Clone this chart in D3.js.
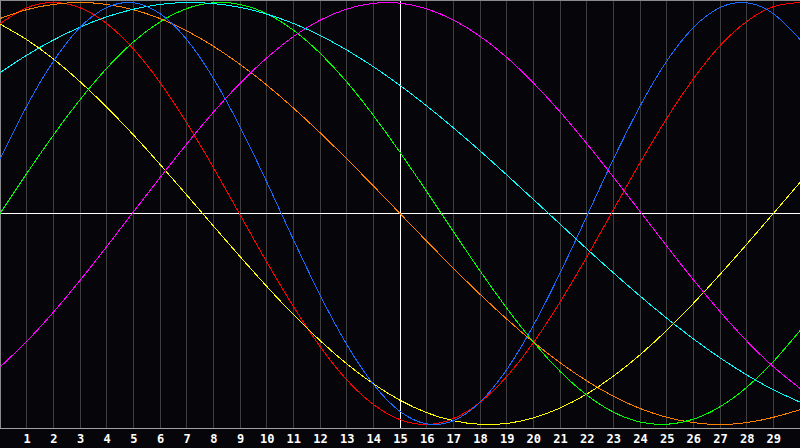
<!DOCTYPE html>
<html>
<head>
<meta charset="utf-8">
<script src="https://cdn.jsdelivr.net/npm/d3@7"></script>
<style>
    html, body { margin: 0; padding: 0; background: #060509; }
    svg { display: block; }
    .tick-label { font-family: "DejaVu Sans Mono", monospace; font-weight: bold; font-size: 12px; fill: #ffffff; }
</style>
</head>
<body>
<svg id="chart"></svg>
<script>
/***** Data *****/
var xValues = [0, 1, 2, 3, 4, 5, 6, 7, 8, 9, 10, 11, 12, 13, 14, 15,
               16, 17, 18, 19, 20, 21, 22, 23, 24, 25, 26, 27, 28, 29, 30];
var tickLabels = [1, 2, 3, 4, 5, 6, 7, 8, 9, 10, 11, 12, 13, 14, 15,
                  16, 17, 18, 19, 20, 21, 22, 23, 24, 25, 26, 27, 28, 29];

var redValues = [0.900, 0.975, 1.000, 0.975, 0.900, 0.780, 0.621, 0.430, 0.218, -0.006,
                 -0.229, -0.440, -0.630, -0.788, -0.905, -0.977, -1.000, -0.972, -0.895, -0.773,
                 -0.613, -0.420, -0.207, 0.017, 0.240, 0.450, 0.638, 0.795, 0.910, 0.980, 1.000];
var orangeValues = [0.924, 0.966, 0.991, 1.000, 0.991, 0.966, 0.924, 0.866, 0.793, 0.707,
                    0.609, 0.500, 0.383, 0.259, 0.131, 0.000, -0.131, -0.259, -0.383, -0.500,
                    -0.609, -0.707, -0.793, -0.866, -0.924, -0.966, -0.991, -1.000, -0.991, -0.966, -0.930];
var yellowValues = [0.898, 0.824, 0.733, 0.625, 0.504, 0.373, 0.233, 0.088, -0.059, -0.204,
                    -0.345, -0.479, -0.602, -0.712, -0.807, -0.885, -0.944, -0.982, -0.999, -0.995,
                    -0.969, -0.922, -0.856, -0.771, -0.670, -0.554, -0.426, -0.289, -0.146, 0.000, 0.147];
var greenValues = [0.000, 0.189, 0.371, 0.539, 0.688, 0.813, 0.908, 0.971, 0.999, 0.991,
                   0.947, 0.869, 0.760, 0.624, 0.465, 0.290, 0.104, -0.085, -0.272, -0.448,
                   -0.609, -0.748, -0.860, -0.941, -0.988, -0.999, -0.975, -0.916, -0.824, -0.702, -0.555];
var cyanValues = [0.667, 0.750, 0.822, 0.883, 0.932, 0.968, 0.991, 1.000, 0.995, 0.977,
                  0.945, 0.901, 0.844, 0.775, 0.696, 0.607, 0.510, 0.406, 0.297, 0.183,
                  0.067, -0.050, -0.167, -0.281, -0.391, -0.496, -0.594, -0.684, -0.765, -0.835, -0.894];
var blueValues = [0.257, 0.508, 0.721, 0.882, 0.976, 0.999, 0.947, 0.825, 0.641, 0.411,
                  0.150, -0.123, -0.386, -0.620, -0.809, -0.938, -0.997, -0.982, -0.894, -0.740,
                  -0.531, -0.283, -0.014, 0.257, 0.508, 0.722, 0.881, 0.976, 0.999, 0.947, 0.825];
var magentaValues = [-0.728, -0.606, -0.468, -0.317, -0.157, 0.007, 0.170, 0.329, 0.480, 0.617,
                     0.737, 0.838, 0.916, 0.969, 0.996, 0.997, 0.970, 0.917, 0.840, 0.740,
                     0.619, 0.482, 0.332, 0.173, 0.010, -0.154, -0.314, -0.465, -0.604, -0.726, -0.829];

var seriesList = [
    { name: "red", color: "#ff0000", values: redValues },
    { name: "orange", color: "#ff8000", values: orangeValues },
    { name: "yellow", color: "#ffff00", values: yellowValues },
    { name: "green", color: "#00ff00", values: greenValues },
    { name: "cyan", color: "#00ffff", values: cyanValues },
    { name: "blue", color: "#1a6aff", values: blueValues },
    { name: "magenta", color: "#ff00ff", values: magentaValues }
];

(function (d3) {

    /***** Configuration *****/
    var width = 800;
    var height = 448;
    var plotBottom = 428;

    /***** Scales *****/
    var x = d3.scaleLinear().domain([0, 30]).range([0, width]);
    var y = d3.scaleLinear().domain([-1, 1]).range([424.5, 2.5]);

    var svg = d3.select("#chart")
                .attr("width", width)
                .attr("height", height);

    svg.append("rect")
       .attr("width", width)
       .attr("height", height)
       .attr("fill", "#060509");

    /***** Grid *****/
    svg.append("g")
       .selectAll("line")
       .data(tickLabels)
       .enter()
       .append("line")
       .attr("x1", function (d) { return Math.floor(x(d)) + 0.5; })
       .attr("x2", function (d) { return Math.floor(x(d)) + 0.5; })
       .attr("y1", 0)
       .attr("y2", plotBottom)
       .attr("stroke", function (d) { return d === 15 ? "#ffffff" : "#3e3e3e"; })
       .attr("stroke-width", 1)
       .attr("shape-rendering", "crispEdges");

    // zero line
    svg.append("line")
       .attr("x1", 0).attr("x2", width)
       .attr("y1", Math.floor(y(0)) + 0.5)
       .attr("y2", Math.floor(y(0)) + 0.5)
       .attr("stroke", "#ffffff")
       .attr("shape-rendering", "crispEdges");

    // frame: top, left, bottom
    var frame = svg.append("g")
                   .attr("stroke", "#8a8a8a")
                   .attr("shape-rendering", "crispEdges");
    frame.append("line").attr("x1", 0).attr("x2", width).attr("y1", 0.5).attr("y2", 0.5);
    frame.append("line").attr("x1", 0.5).attr("x2", 0.5).attr("y1", 0).attr("y2", plotBottom + 1);
    frame.append("line").attr("x1", 0).attr("x2", width).attr("y1", plotBottom + 0.5).attr("y2", plotBottom + 0.5)
         .attr("stroke", "#a0a0a0");

    /***** Curves *****/
    var line = d3.line()
                 .x(function (d, i) { return x(xValues[i]); })
                 .y(function (d) { return y(d); })
                 .curve(d3.curveNatural);

    svg.append("g")
       .selectAll("path")
       .data(seriesList)
       .enter()
       .append("path")
       .attr("d", function (s) { return line(s.values); })
       .attr("fill", "none")
       .attr("stroke", function (s) { return s.color; })
       .attr("stroke-width", 1)
       .attr("shape-rendering", "crispEdges");

    /***** Axis labels *****/
    var xAxis = d3.axisBottom(x).tickValues(tickLabels).tickSize(0).tickPadding(0);
    var axisGroup = svg.append("g")
                       .attr("transform", "translate(0," + (plotBottom + 6) + ")")
                       .call(xAxis);
    axisGroup.select(".domain").remove();
    axisGroup.selectAll("text")
             .attr("class", "tick-label")
             .attr("dy", "0.71em")
             .attr("y", 0);

})(d3);
</script>
</body>
</html>
